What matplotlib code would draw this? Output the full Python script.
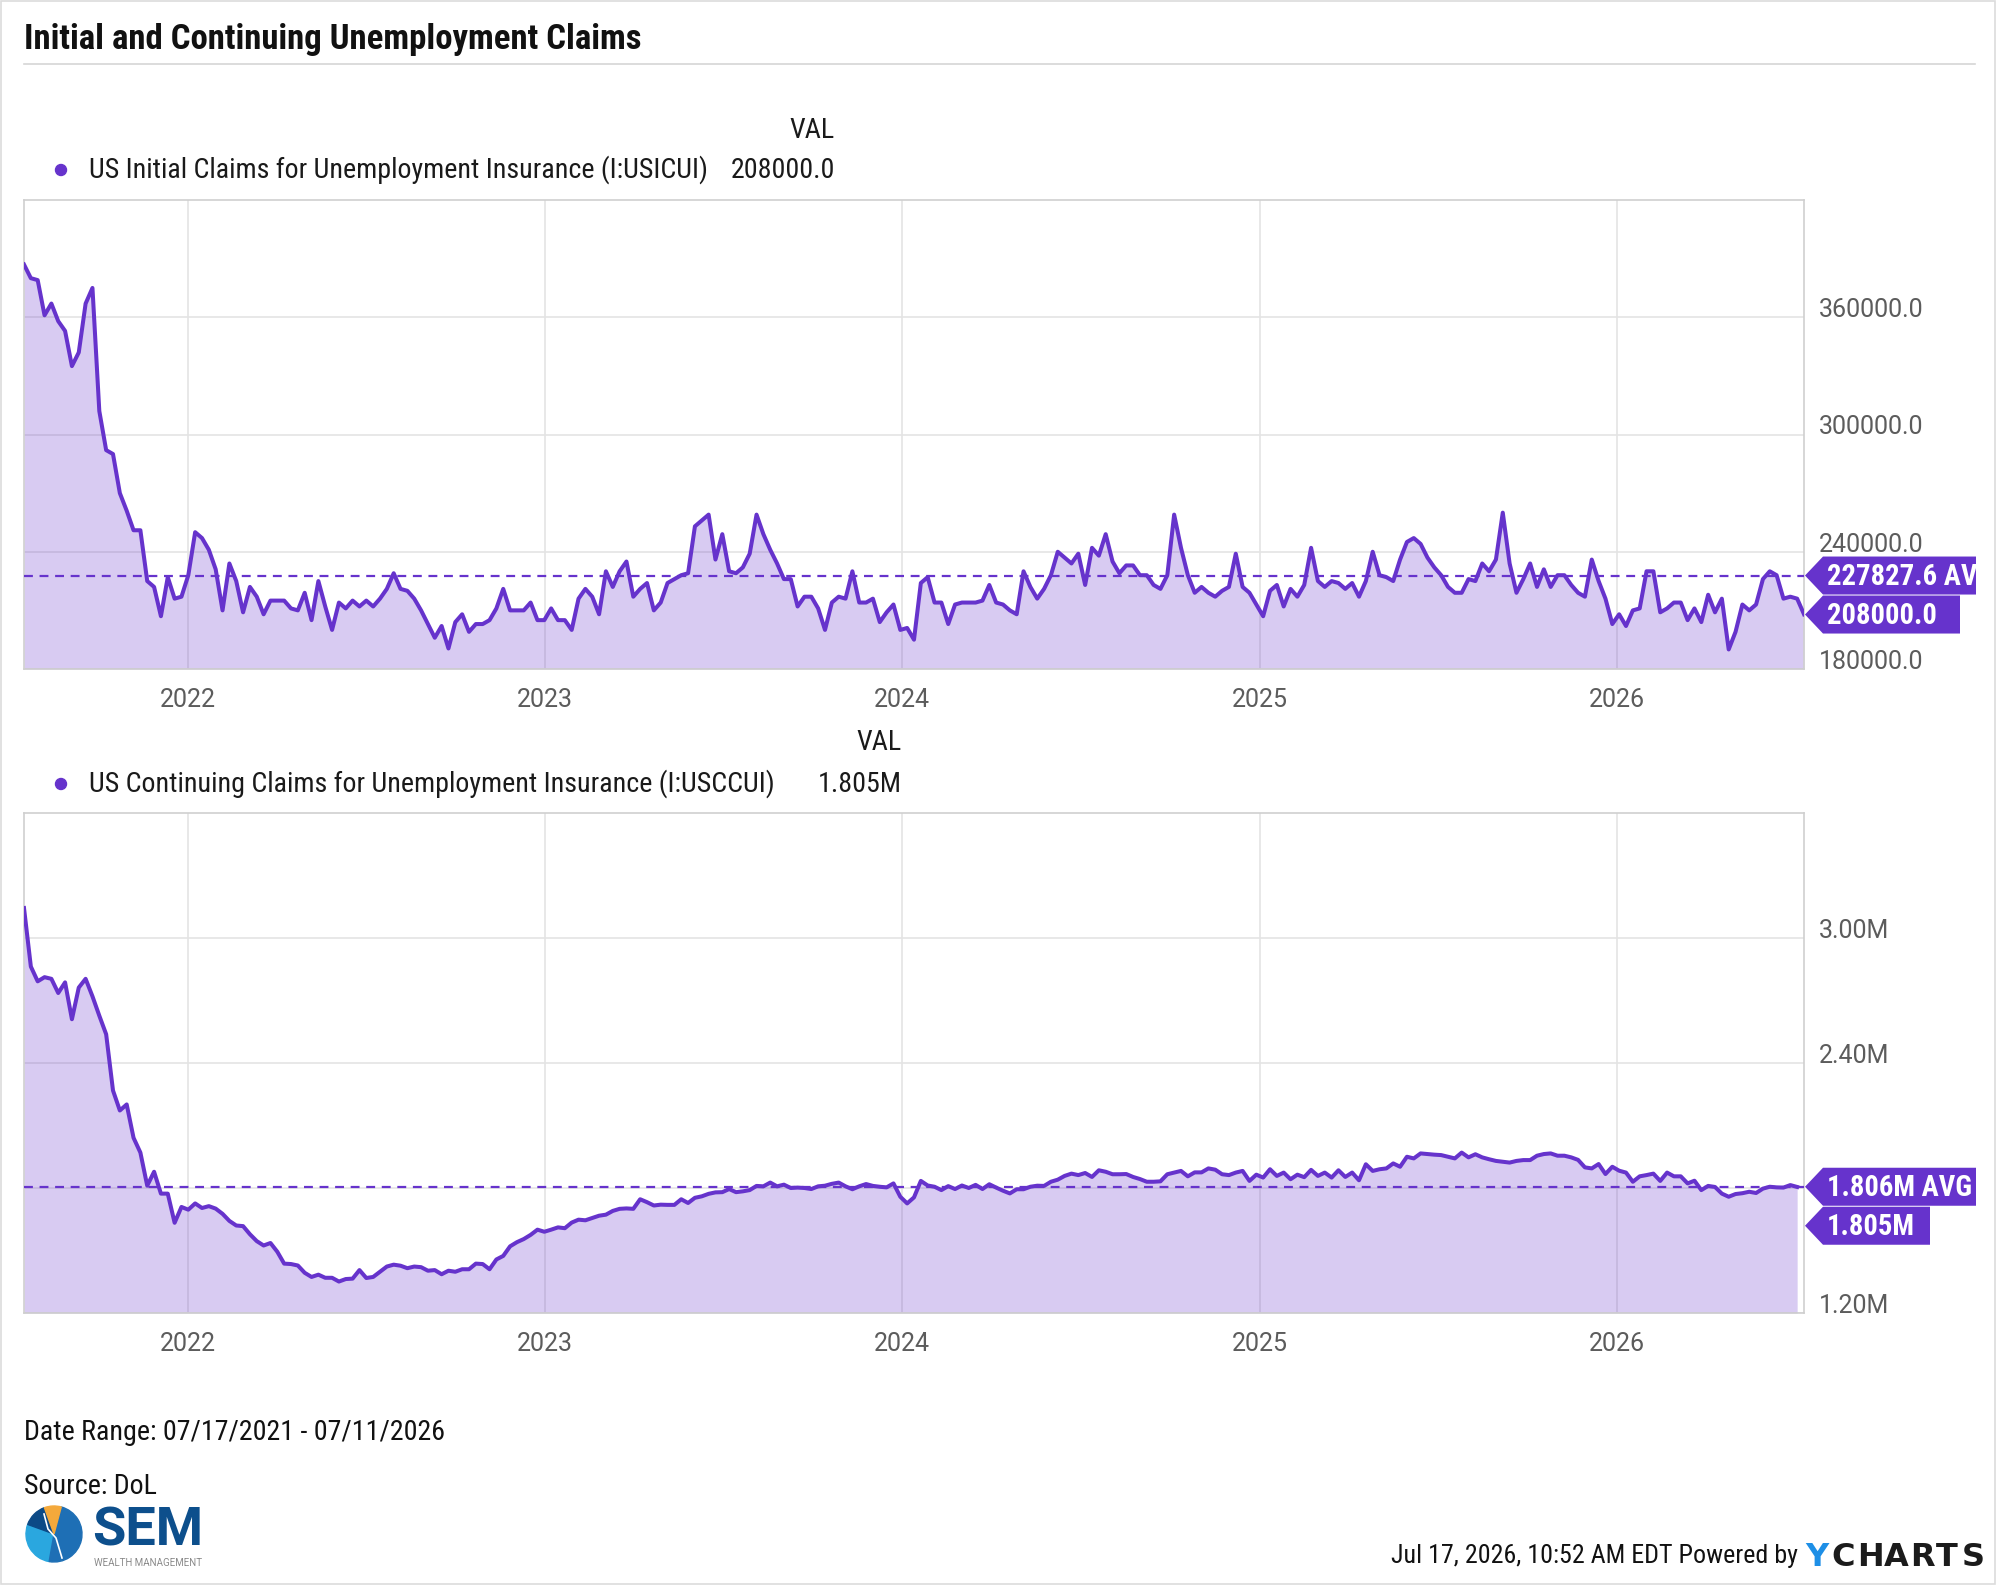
import matplotlib as mpl
mpl.use('Agg')
import matplotlib.pyplot as plt
import matplotlib.dates as mdates
from matplotlib.patches import Polygon, Rectangle, Circle, Wedge
import pandas as pd

# ---- data ----
start_date = '2021-07-17'
initial_claims = [
    387000, 380000, 379000, 361000, 367000, 358000, 353000, 335000, 342000, 367000,
    375000, 312000, 292000, 290000, 270000, 261000, 251000, 251000, 225000, 222000,
    207000, 227000, 216000, 217000, 228000, 250000, 247000, 241000, 231000, 210000,
    234000, 225000, 209000, 222000, 217000, 208000, 215000, 215000, 215000, 211000,
    210000, 219000, 205000, 225000, 212000, 200000, 214000, 211000, 215000, 212000,
    215000, 212000, 216000, 221000, 229000, 221000, 220000, 216000, 210000, 203000,
    196000, 202000, 190500, 204000, 208000, 199000, 203000, 203000, 205000, 211000,
    221000, 210000, 210000, 210000, 214000, 205000, 205000, 211000, 205000, 205000,
    200000, 216000, 221000, 217000, 208000, 230000, 222000, 230000, 235000, 217000,
    221000, 224000, 210000, 214000, 224000, 226000, 228000, 229000, 253000, 256000,
    259000, 236000, 249000, 230000, 229000, 232000, 239000, 259000, 249000, 241000,
    234000, 226000, 226000, 212000, 217000, 217000, 211000, 200000, 214000, 217000,
    216000, 230000, 214000, 214000, 216000, 204000, 209000, 213000, 200000, 201000,
    195000, 224000, 227000, 214000, 214000, 203000, 213000, 214000, 214000, 214000,
    215000, 223000, 214000, 213000, 210000, 208000, 230000, 222000, 216000, 221000,
    228000, 240000, 237000, 234000, 239000, 223000, 242000, 238000, 249000, 235000,
    229000, 233000, 233000, 228000, 228000, 223000, 221000, 228000, 259000, 242000,
    228000, 219000, 222000, 219000, 217000, 220000, 222000, 239000, 222000, 219000,
    213000, 207000, 220000, 223000, 212000, 221000, 217000, 223000, 242000, 225000,
    222000, 225000, 224000, 221000, 224000, 217000, 225000, 240000, 228000, 227000,
    225000, 236000, 245000, 247000, 244000, 237000, 232000, 228000, 222000, 219000,
    219000, 226000, 225000, 234000, 230000, 236000, 260000, 234000, 219000, 226000,
    234000, 222000, 231000, 222000, 228000, 228000, 223000, 219000, 217000, 236000,
    225000, 216000, 203000, 208000, 202000, 210000, 211000, 230000, 230000, 209000,
    211000, 214000, 214000, 205000, 211000, 204000, 218000, 209000, 216000, 190000,
    199000, 213000, 210000, 213000, 226000, 230000, 228000, 216000, 217000, 216000,
    208000,
]
continuing_claims_m = [
    3.144, 2.863, 2.792, 2.812, 2.804, 2.736, 2.787, 2.610, 2.762, 2.804,
    2.720, 2.627, 2.538, 2.268, 2.172, 2.201, 2.041, 1.970, 1.811, 1.878,
    1.773, 1.773, 1.633, 1.709, 1.696, 1.726, 1.704, 1.713, 1.701, 1.676,
    1.642, 1.620, 1.617, 1.578, 1.545, 1.524, 1.536, 1.494, 1.437, 1.435,
    1.428, 1.393, 1.373, 1.384, 1.369, 1.369, 1.351, 1.363, 1.365, 1.406,
    1.368, 1.373, 1.398, 1.423, 1.432, 1.427, 1.415, 1.423, 1.420, 1.403,
    1.406, 1.386, 1.403, 1.398, 1.410, 1.410, 1.437, 1.435, 1.410, 1.457,
    1.474, 1.520, 1.540, 1.555, 1.575, 1.600, 1.590, 1.600, 1.611, 1.607,
    1.634, 1.648, 1.645, 1.656, 1.667, 1.672, 1.690, 1.700, 1.702, 1.700,
    1.746, 1.732, 1.716, 1.720, 1.719, 1.719, 1.746, 1.728, 1.753, 1.760,
    1.772, 1.779, 1.780, 1.795, 1.780, 1.784, 1.790, 1.810, 1.808, 1.826,
    1.808, 1.816, 1.800, 1.802, 1.800, 1.795, 1.808, 1.811, 1.820, 1.826,
    1.808, 1.794, 1.808, 1.819, 1.810, 1.806, 1.803, 1.822, 1.758, 1.726,
    1.755, 1.834, 1.812, 1.806, 1.790, 1.809, 1.795, 1.812, 1.800, 1.815,
    1.795, 1.818, 1.802, 1.787, 1.774, 1.794, 1.794, 1.806, 1.811, 1.810,
    1.830, 1.840, 1.858, 1.869, 1.862, 1.872, 1.853, 1.885, 1.878, 1.866,
    1.866, 1.867, 1.853, 1.843, 1.830, 1.830, 1.832, 1.866, 1.874, 1.882,
    1.856, 1.875, 1.875, 1.894, 1.888, 1.866, 1.862, 1.874, 1.882, 1.834,
    1.864, 1.850, 1.890, 1.858, 1.874, 1.842, 1.864, 1.852, 1.887, 1.858,
    1.874, 1.850, 1.885, 1.853, 1.874, 1.837, 1.914, 1.882, 1.890, 1.894,
    1.918, 1.902, 1.950, 1.942, 1.966, 1.963, 1.960, 1.958, 1.950, 1.942,
    1.970, 1.947, 1.962, 1.947, 1.938, 1.930, 1.926, 1.922, 1.930, 1.934,
    1.934, 1.955, 1.963, 1.966, 1.955, 1.955, 1.947, 1.935, 1.899, 1.894,
    1.915, 1.867, 1.902, 1.883, 1.874, 1.830, 1.856, 1.862, 1.869, 1.834,
    1.874, 1.856, 1.856, 1.822, 1.835, 1.790, 1.810, 1.805, 1.773, 1.758,
    1.771, 1.775, 1.782, 1.776, 1.797, 1.806, 1.803, 1.802, 1.814, 1.805,
]
initial_avg = 227827.6
continuing_avg = 1.806e6
initial_ticks = [180000, 240000, 300000, 360000]
continuing_ticks = [1.2e6, 1.8e6, 2.4e6, 3.0e6]
initial_name = 'US Initial Claims for Unemployment Insurance (I:USICUI)'
continuing_name = 'US Continuing Claims for Unemployment Insurance (I:USCCUI)'
initial_last_txt = '208000.0'
continuing_last_txt = '1.805M'
initial_avg_txt = '227827.6 AVG'
continuing_avg_txt = '1.806M AVG'

# ---- style ----
W, H = 2000, 1585
PURPLE = '#6633cc'
GRID = '#e4e4e4'
SPINE = '#cfcfcf'
TICKC = '#5c5c5c'
COND = ['Roboto Condensed', 'Roboto', 'DejaVu Sans']
REG = ['Roboto', 'DejaVu Sans']
FS = 20.2

dates_i = pd.date_range(start_date, periods=len(initial_claims), freq='7D')
dates_c = pd.date_range(start_date, periods=len(continuing_claims_m), freq='7D')
cont = [v * 1e6 for v in continuing_claims_m]

fig = plt.figure(figsize=(W / 100, H / 100), dpi=100)


def px_axes(x0, y0, x1, y1):
    return fig.add_axes([x0 / W, 1 - y1 / H, (x1 - x0) / W, (y1 - y0) / H])


ax1 = px_axes(24, 200, 1804, 669)
ax2 = px_axes(24, 813, 1804, 1313)

panels = [
    (ax1, dates_i, initial_claims, (180000, 420000), initial_ticks,
     lambda v: f'{v:.1f}', initial_avg),
    (ax2, dates_c, cont, (1.2e6, 3.6e6), continuing_ticks,
     lambda v: f'{v / 1e6:.2f}M', continuing_avg),
]
for ax, d, v, ylim, ticks, fmt, avg in panels:
    ax.fill_between(d, v, ylim[0], color=PURPLE, alpha=0.25, lw=0, zorder=2)
    ax.plot(d, v, color=PURPLE, lw=2.9, zorder=3)
    ax.axhline(avg, color=PURPLE, lw=1.6, dashes=(4, 3), zorder=4)
    ax.set_xlim(pd.Timestamp('2021-07-17'), pd.Timestamp('2026-07-11'))
    ax.set_ylim(*ylim)
    ax.set_yticks(ticks)
    ax.set_yticklabels([fmt(t) for t in ticks])
    ax.yaxis.tick_right()
    ax.xaxis.set_major_locator(mdates.YearLocator())
    ax.xaxis.set_major_formatter(mdates.DateFormatter('%Y'))
    ax.set_axisbelow(True)
    ax.grid(True, color=GRID, lw=1.2)
    ax.tick_params(axis='both', length=0, labelsize=18, labelcolor=TICKC)
    ax.tick_params(axis='x', pad=14)
    ax.tick_params(axis='y', pad=11)
    for lab in ax.get_yticklabels() + ax.get_xticklabels():
        lab.set_family(REG)
    for lab in ax.get_yticklabels():
        lab.set_va('baseline')
    for s in ax.spines.values():
        s.set_color(SPINE)
        s.set_linewidth(1.2)

# ---- overlay in pixel coordinates (clips at the card edge) ----
ov = fig.add_axes([0, 0, 1976 / W, 1], zorder=10)
ov.set_xlim(0, 1976)
ov.set_ylim(H, 0)
ov.axis('off')


def y_px(ax, val):
    return H - ax.transData.transform((0, val))[1]


def tag(yc, right, txt):
    x_tip, x_body, h = 1805, 1823, 38
    pts = [(x_tip, yc), (x_body, yc - h / 2), (right, yc - h / 2),
           (right, yc + h / 2), (x_body, yc + h / 2)]
    ov.add_patch(Polygon(pts, closed=True, facecolor=PURPLE, edgecolor='none',
                         zorder=20, clip_on=True))
    ov.text(1827, yc + 1, txt, color='white', fontsize=20.6, fontweight='bold',
            family=COND, va='center', ha='left', zorder=21, clip_on=True)


ya = y_px(ax1, initial_avg)
yl = y_px(ax1, initial_claims[-1])
tag(ya, 2010, initial_avg_txt)
tag(max(yl, ya + 39), 1960, initial_last_txt)
ya = y_px(ax2, continuing_avg)
yl = y_px(ax2, cont[-1])
tag(ya, 1976, continuing_avg_txt)
tag(max(yl, ya + 39), 1930, continuing_last_txt)

# title and separator
ov.text(24, 40, 'Initial and Continuing Unemployment Claims', fontsize=25,
        fontweight='bold', family=COND, color='#111111', va='center', ha='left')
ov.plot([24, 1975], [64, 64], color='#d6d6d6', lw=1.2, clip_on=False)

# legends
for yv, yrow, xr, name, val in [(130, 170, 835, initial_name, initial_last_txt),
                                (743, 784, 902, continuing_name, continuing_last_txt)]:
    ov.text(xr, yv, 'VAL', fontsize=FS, family=COND, color='#1a1a1a',
            ha='right', va='center')
    ov.add_patch(Circle((61, yrow), 5.5, color=PURPLE, zorder=5))
    ov.text(89, yrow, name, fontsize=FS, family=COND, color='#1a1a1a',
            ha='left', va='center')
    ov.text(xr, yrow, val, fontsize=FS, family=COND, color='#1a1a1a',
            ha='right', va='center')

# footer
ov.text(24, 1432, 'Date Range: 07/17/2021 - 07/11/2026', fontsize=FS,
        family=COND, color='#111111', va='center')
ov.text(24, 1487, 'Source: DoL', fontsize=FS, family=COND, color='#111111',
        va='center')
ov.text(1798, 1556, 'Jul 17, 2026, 10:52 AM EDT Powered by', fontsize=18.7,
        family=COND, color='#111111', ha='right', va='center')
for k, ch in enumerate('YCHARTS'):
    ov.text(1805 + k * 26.2, 1557, ch, fontsize=23, fontweight='heavy',
            family=['DejaVu Sans'],
            color='#1e8fe6' if k == 0 else '#1b1b1b', ha='left', va='center',
            clip_on=False)

# SEM logo
cx, cy, r = 54, 1534, 28
ov.add_patch(Wedge((cx, cy), r, 100, 200, color='#2aa7df', clip_on=False))
ov.add_patch(Wedge((cx, cy), r, -75, 100, color='#1e6fb5', clip_on=False))
ov.add_patch(Wedge((cx, cy), r, 200, 250, color='#0c4a86', clip_on=False))
ov.add_patch(Wedge((cx, cy), r, 250, 285, color='#f4a93b', clip_on=False))
ov.plot([cx - 10, cx - 6, cx + 2, cx + 8], [cy - 20, cy - 5, cy + 4, cy + 24],
        color='white', lw=1.2, clip_on=False)
ov.text(92, 1545, 'SEM', fontsize=39, fontweight='bold', family=REG,
        color='#0d4f8c', va='baseline', ha='left')
ov.text(94, 1563, 'WEALTH MANAGEMENT', fontsize=7.0, family=REG,
        color='#8a8a8a', va='center', ha='left')

# card border
ov.add_patch(Rectangle((1, 1), 1994, H - 2, fill=False, edgecolor='#dcdcdc',
                       lw=1.2, clip_on=False))

fig.savefig('out.png', dpi=100)
